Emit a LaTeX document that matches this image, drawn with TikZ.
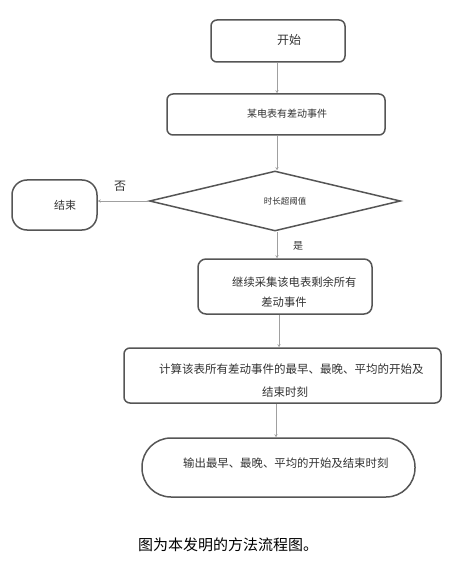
\documentclass[tikz,border=0pt]{standalone}
\usepackage{fontspec}
\setmainfont{Noto Sans CJK SC}
\usetikzlibrary{shapes.geometric,arrows.meta}
\definecolor{boxline}{HTML}{555555}
\definecolor{conn}{HTML}{A0A0A0}
\definecolor{txt}{HTML}{333333}
\tikzset{
  box/.style={draw=boxline,line width=1.5pt,rectangle,inner sep=0pt},
  conline/.style={draw=conn,line width=0.9pt,-{Stealth[length=3pt,width=3pt]}},
  lbl/.style={text=txt,inner sep=0pt,font=\fontsize{11}{13}\selectfont},
}
\begin{document}
\begin{tikzpicture}[x=1pt,y=-1pt]
\useasboundingbox (0,0) rectangle (457,561);
\fill[white] (0,0) rectangle (457,561);
% shapes
\node[box,rounded corners=6pt,minimum width=134pt,minimum height=42pt] (start) at (278,41) {};
\node[box,rounded corners=6pt,minimum width=218pt,minimum height=41pt] (ev) at (276,114.5) {};
\node[draw=boxline,line width=1.5pt,diamond,shape aspect=4.18,minimum width=251pt,minimum height=60pt,inner sep=0pt] (dec) at (275,201) {};
\node[box,rounded corners=15pt,minimum width=85pt,minimum height=50pt] (stop) at (54.5,205) {};
\node[box,rounded corners=8pt,minimum width=174pt,minimum height=55pt] (coll) at (285,286.5) {};
\node[box,rounded corners=6pt,minimum width=317pt,minimum height=55pt] (calc) at (282.5,375.5) {};
\node[box,rounded corners=29pt,minimum width=273pt,minimum height=59pt] (out) at (278.5,467.5) {};
% texts
\node[lbl,font=\fontsize{12}{14}\selectfont] (tstart) at (289,40) {开始};
\node[lbl,font=\fontsize{10}{12}\selectfont] (tev) at (287,114) {某电表有差动事件};
\node[lbl,font=\fontsize{8.5}{10}\selectfont] (tdec) at (285,201) {时长超阈值};
\node[lbl,font=\fontsize{11}{13}\selectfont] (tstop) at (65,205) {结束};
\node[lbl,anchor=west,font=\fontsize{11.3}{14}\selectfont] (tcoll1) at (232,282) {继续采集该电表剩余所有};
\node[lbl,font=\fontsize{11.3}{14}\selectfont] (tcoll2) at (284,302) {差动事件};
\node[lbl,anchor=west,font=\fontsize{11.5}{14}\selectfont] (tcalc1) at (159,369) {计算该表所有差动事件的最早、最晚、平均的开始及};
\node[lbl,font=\fontsize{11.5}{14}\selectfont] (tcalc2) at (285,392) {结束时刻};
\node[lbl,anchor=west,font=\fontsize{11.4}{14}\selectfont] (tout) at (183,463) {输出最早、最晚、平均的开始及结束时刻};
\node[lbl,font=\fontsize{12}{14}\selectfont] (no) at (120,186) {否};
\node[lbl,font=\fontsize{10}{12}\selectfont] (yes) at (298,246) {是};
\node[inner sep=0pt,anchor=west,text=black,font=\fontsize{15}{17}\selectfont] (cap) at (138,545) {图为本发明的方法流程图。};
% connectors
\draw[conline] (start.south -| 277,0) -- (ev.north -| 277,0);
\draw[conline] (ev.south -| 277,0) -- (dec.north -| 277,0);
\draw[conline] (dec.west) -- (stop.east |- dec.west);
\draw[conline] (dec.south -| 277,0) -- (coll.north -| 277,0);
\draw[conline] (coll.south -| 279,0) -- (calc.north -| 279,0);
\draw[conline] (calc.south -| 276,0) -- (out.north -| 276,0);
\end{tikzpicture}
\end{document}
